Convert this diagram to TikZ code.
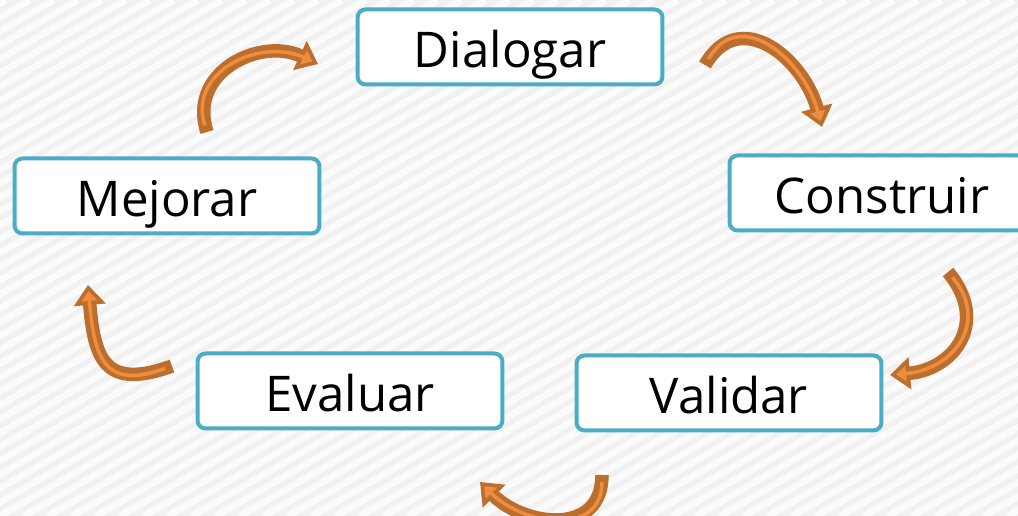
\documentclass[tikz,border=0pt]{standalone}
\usepackage{fontspec}
\setmainfont{Open Sans}
\usetikzlibrary{arrows.meta}

\definecolor{boxblue}{HTML}{4BACC6}
\definecolor{arrowdark}{HTML}{BC6E2F}
\definecolor{arrowlight}{HTML}{EE8D3E}
\definecolor{backgray}{HTML}{F1F1F1}
\definecolor{stripe}{HTML}{FBFBFB}

\begin{document}
\begin{tikzpicture}[
            x = 0.02cm, y = 0.02cm, % one unit is one pixel
            line join = round,
            font = \fontsize{28}{30}\selectfont % text in the boxes
        ]

        \tikzstyle{phase}=[
        draw = boxblue,
        fill = white,
        line width = 0.08cm,
        rounded corners = 0.16cm,
        minimum width = 6.1cm,
        minimum height = 1.5cm,
        text height = 0.9cm,
        text depth = 0.08cm,
        inner sep = 0pt
        ]

        \tikzstyle{cycle arrow}=[
        draw = arrowdark,
        line width = 0.27cm,
        -{Triangle[length=0.4cm, width=0.62cm]},
        postaction = {draw = arrowlight, line width = 0.07cm,
            -{Triangle[length=0.2cm, width=0.3cm]},
            shorten > = 0.12cm, shorten < = 0.14cm}
        ]

        % background with light stripes
        \clip (0,0) rectangle (1018,516);
        \fill[backgray] (0,0) rectangle (1018,516);
        \foreach \i in {-38,...,43}
            \draw[stripe, line width = 0.13cm] (\i*24,0) -- ++(894,516);

        \node[phase] (dialogar) at (510,469) {Dialogar};
        \node[phase] (construir) at (882,323) {Construir};
        \node[phase] (validar) at (729,123) {Validar};
        \node[phase] (evaluar) at (350,125) {Evaluar};
        \node[phase] (mejorar) at (167,320) {Mejorar};

        % ends of the curved arrows
        \coordinate (mejorar-out) at (207,384);
        \coordinate (dialogar-in) at (318,452);
        \coordinate (dialogar-out) at (705,451);
        \coordinate (construir-in) at (822,389);
        \coordinate (construir-out) at (948,244);
        \coordinate (validar-in) at (890,141);
        \coordinate (validar-out) at (602,41);
        \coordinate (evaluar-in) at (480,34);
        \coordinate (evaluar-out) at (172,150);
        \coordinate (mejorar-in) at (88,231);

        \path[cycle arrow] (mejorar-out) to[out=108, in=155, looseness=1.25] (dialogar-in);
        \path[cycle arrow] (dialogar-out) to[out=60, in=105, looseness=1.35] (construir-in);
        \path[cycle arrow] (construir-out) to[out=-50, in=5, looseness=1.4] (validar-in);
        \path[cycle arrow] (validar-out) to[out=-90, in=-45, looseness=1.3] (evaluar-in);
        \path[cycle arrow] (evaluar-out) to[out=200, in=-85, looseness=1.6] (mejorar-in);
    \end{tikzpicture}
\end{document}
